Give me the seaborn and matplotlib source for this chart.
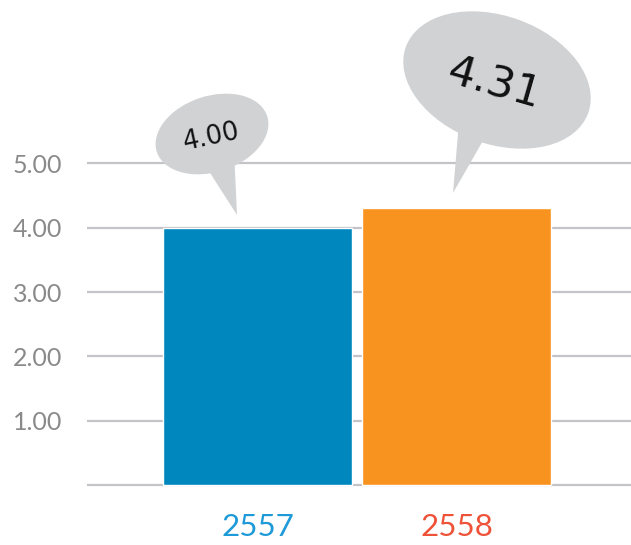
import matplotlib
matplotlib.use("Agg")
import matplotlib.pyplot as plt
import seaborn as sns
import pandas as pd
from matplotlib.patches import Ellipse, Polygon
from matplotlib.transforms import Affine2D

# ---- data ----
years = ["2557", "2558"]
values = [4.00, 4.31]
bar_colors = ["#0088BE", "#F7931E"]
label_colors = ["#1E9AD8", "#EE5238"]
ytick_vals = [1, 2, 3, 4, 5]
ytick_labels = ["1.00", "2.00", "3.00", "4.00", "5.00"]
bubble_texts = ["4.00", "4.31"]

sns.set_theme(style="white")
plt.rcParams['font.family'] = ['Lato', 'DejaVu Sans']

W, H = 631, 545
fig = plt.figure(figsize=(W / 100, H / 100), dpi=100)
ax = fig.add_axes([87 / W, 0.0747, 1 - 87 / W, 0.924])

df = pd.DataFrame({"year": years, "value": values})
sns.barplot(data=df, x="year", y="value", hue="year", palette=bar_colors,
            width=0.95, legend=False, ax=ax, saturation=1, zorder=3)

ax.set_xlim(-0.857, 1.877)
ax.set_ylim(-0.3, 7.53)
for y in [0] + ytick_vals:
    ax.axhline(y, color="#C3C3C8", lw=1.6, zorder=1)

ax.set_yticks(ytick_vals)
ax.set_yticklabels(ytick_labels)
ax.tick_params(axis="y", length=0, pad=18, labelsize=18, labelcolor="#8A8A8A")
ax.tick_params(axis="x", length=0, pad=6, labelsize=22.5)
for lbl, c in zip(ax.get_xticklabels(), label_colors):
    lbl.set_color(c)
ax.set_xlabel("")
ax.set_ylabel("")
for s in ax.spines.values():
    s.set_visible(False)

# ---- speech bubbles (pixel coordinates, y up) ----
pix = Affine2D().scale(1 / 100) + fig.dpi_scale_trans
bub_gray = "#D1D2D4"

def bubble(center, w, h, angle, tail, text, tpos, trot, fsize):
    e = Ellipse((center[0], H - center[1]), w, h, angle=angle,
                transform=pix, facecolor=bub_gray, edgecolor="none", zorder=5)
    fig.add_artist(e)
    p = Polygon([(x, H - y) for x, y in tail], closed=True, transform=pix,
                facecolor=bub_gray, edgecolor="none", zorder=5)
    fig.add_artist(p)
    fig.text(tpos[0] / W, (H - tpos[1]) / H, text, rotation=trot,
             rotation_mode="anchor", ha="center", va="center",
             fontsize=fsize, color="#111111", family="DejaVu Sans", zorder=6)

bubble((212, 134), 116, 76, 18, [(205, 165), (234, 150), (237, 215)],
       bubble_texts[0], (211, 137), 12, 18.5)
bubble((497, 80), 194, 128, -20, [(460, 110), (492, 125), (453, 193)],
       bubble_texts[1], (494, 84), -16, 31)

fig.savefig("out.png", dpi=100)
